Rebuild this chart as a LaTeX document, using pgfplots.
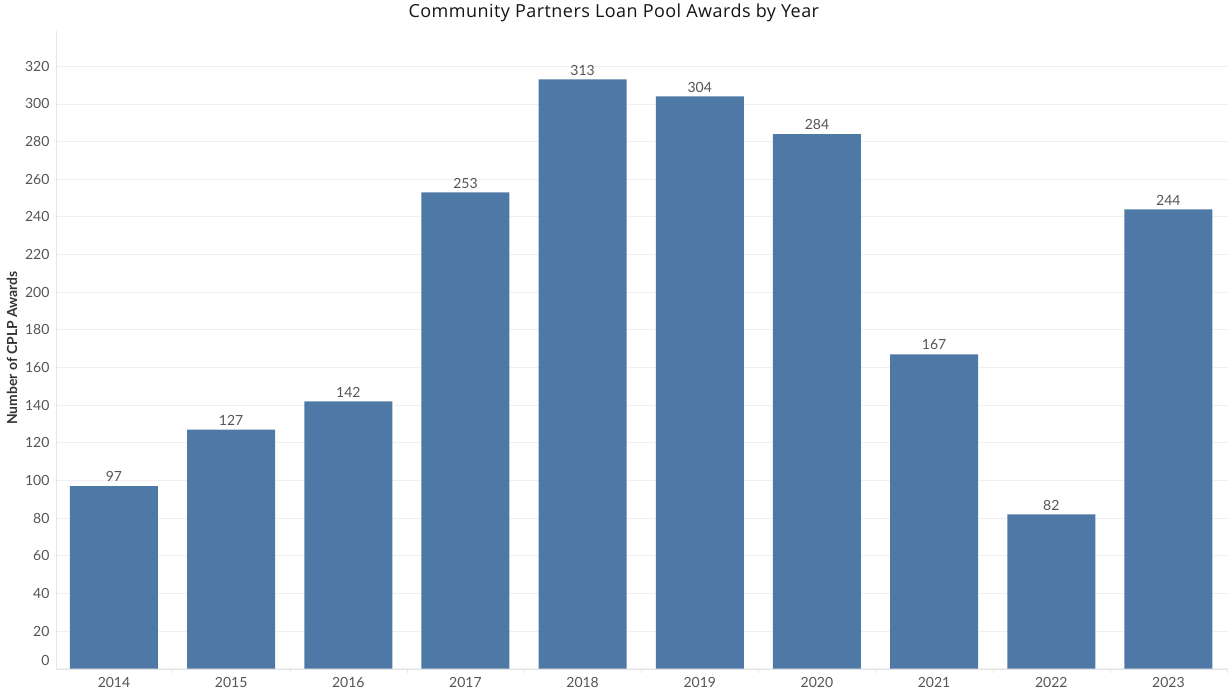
\documentclass[border=0pt]{standalone}
\usepackage{fontspec}
\setmainfont{Lato}
\newfontfamily\titlefont[LetterSpace=2.5]{Open Sans}
\usepackage{pgfplots}
\pgfplotsset{compat=1.18}
\definecolor{barblue}{HTML}{4E79A7}
\definecolor{txt}{HTML}{555555}
\definecolor{gridc}{HTML}{F0F0F0}
\definecolor{axc}{HTML}{E4E4E4}
\pgfplotstableread{
x val
0 97
1 127
2 142
3 253
4 313
5 304
6 284
7 167
8 82
9 244
}\awards
\begin{document}
\begin{tikzpicture}[x=1pt,y=1pt]
\path[use as bounding box] (-56,-22.3) rectangle (1172,668.7);
\begin{axis}[
  at={(0,0)}, anchor=south west,
  scale only axis, width=1172pt, height=638pt,
  xmin=-0.495, xmax=9.508, ymin=0, ymax=338.9,
  ybar, bar width=0.751,
  axis x line*=bottom, axis y line*=left,
  axis line style={draw=axc, -},
  ytick={0,20,...,320},
  yticklabel={\ifdim\tick pt=0pt \raisebox{16pt}{0}\else\pgfmathprintnumber{\tick}\fi},
  ymajorgrids, grid style={draw=gridc, line width=0.8pt},
  xtick={0,...,9},
  xticklabels={2014,2015,2016,2017,2018,2019,2020,2021,2022,2023},
  major tick length=0pt,
  minor xtick={-0.5,0.5,...,9.5},
  minor tick length=4pt, tick align=outside,
  minor tick style={draw=axc},
  ticklabel style={font=\fontsize{14}{14}\selectfont, text=txt},
  /pgf/number format/assume math mode=true,
  xticklabel style={anchor=north, yshift=-5pt},
  yticklabel style={anchor=east, xshift=-3pt},
  ylabel={Number of CPLP Awards},
  ylabel style={font=\fontsize{13.9}{13.9}\selectfont\bfseries, text=black!80,
    at={(axis description cs:-0.0375,0.5027)}, anchor=center, rotate=0},
  title={Community Partners Loan Pool Awards by Year},
  title style={font=\titlefont\fontsize{18}{18}\selectfont, text=black!92,
    at={(axis description cs:0.476,1)}, anchor=center, yshift=12pt},
  nodes near coords,
  nodes near coords style={font=\fontsize{14}{14}\selectfont, text=txt, anchor=south, inner sep=2pt, yshift=2pt},
  clip=false,
]
\addplot[fill=barblue, draw=none] table[x=x, y=val] {\awards};
\end{axis}
\end{tikzpicture}
\end{document}
